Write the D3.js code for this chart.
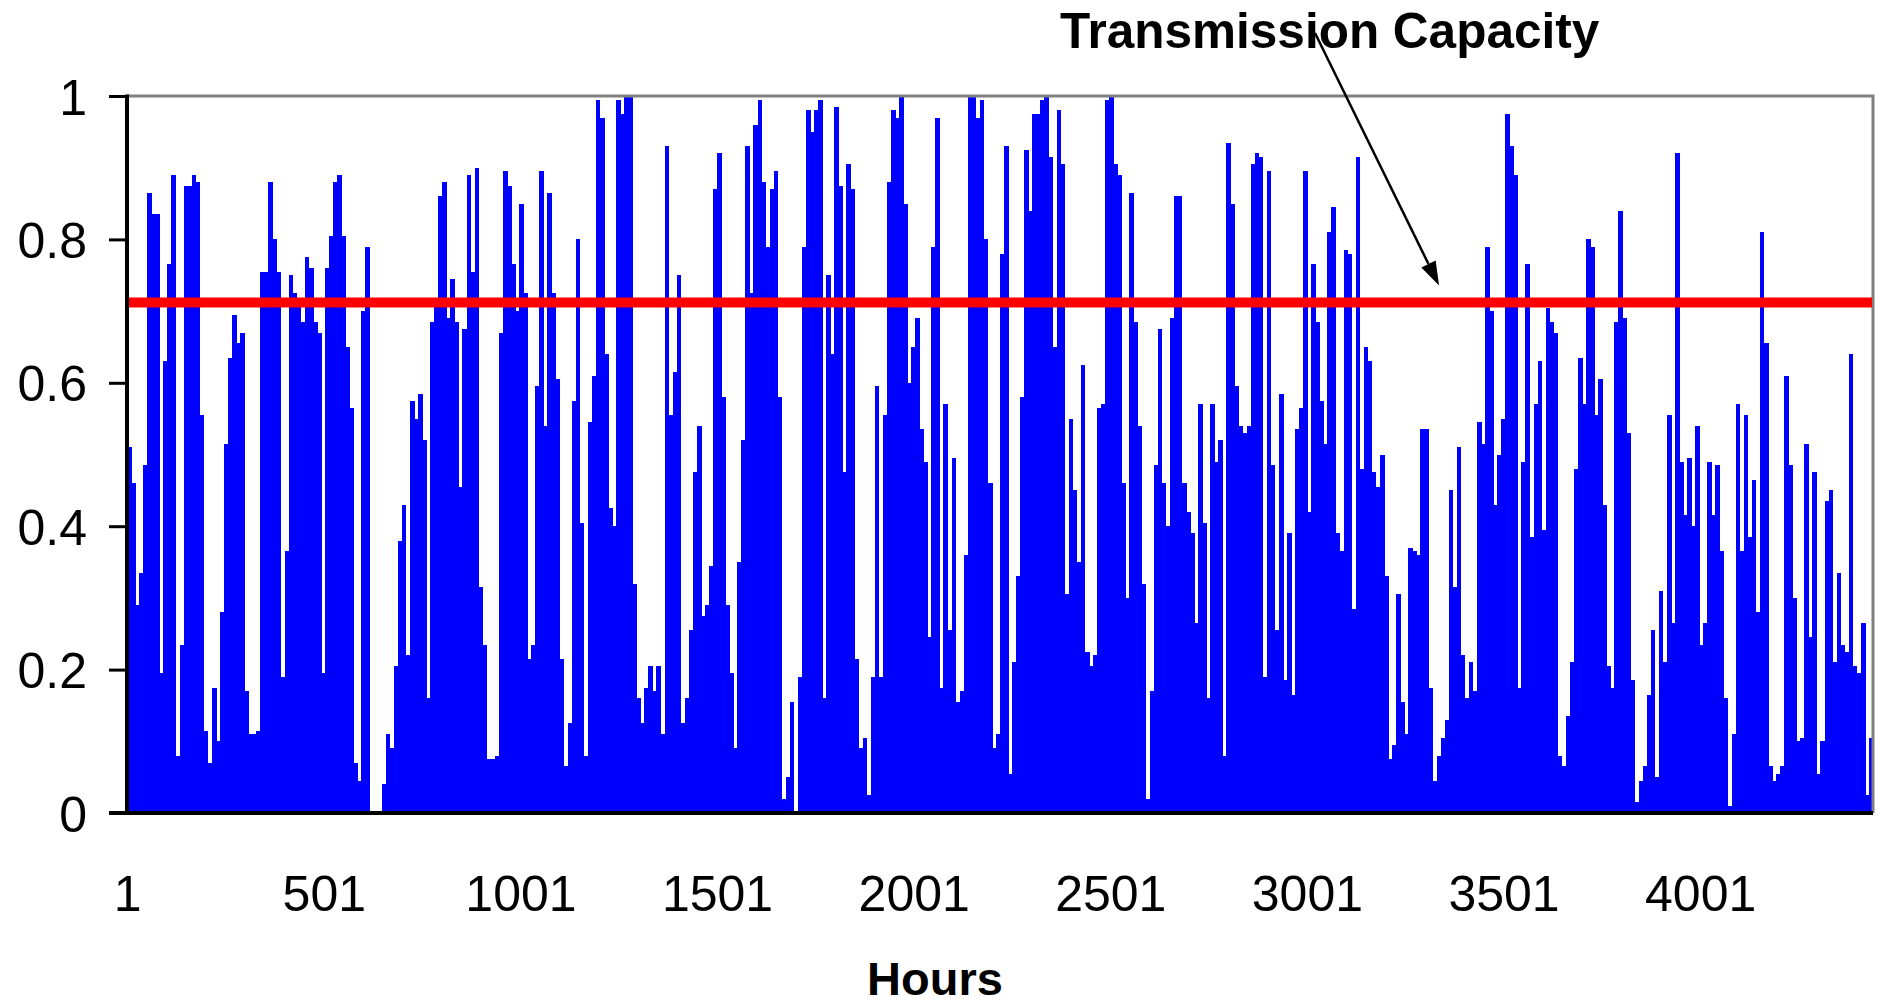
<!DOCTYPE html>
<html>
<head>
<meta charset="utf-8">
<script src="https://cdn.jsdelivr.net/npm/d3@7"></script>
<style>
  html, body { margin: 0; padding: 0; background: #fff; }
  svg { display: block; font-family: "Liberation Sans", Arial, sans-serif; }
</style>
</head>
<body>
<svg id="chart" width="1880" height="1005"></svg>
<script>
// Hourly line flow (per-unit of rating), one value per ~10-hour block, hours 1..4440
const flow = [
  0.51, 0.46, 0.29, 0.335, 0.485, 0.865, 0.835, 0.835, 0.195, 0.63, 0.765, 0.89, 0.08, 0.235, 0.875, 0.875, 0.89, 0.88, 0.555, 0.115,
  0.07, 0.175, 0.1, 0.28, 0.515, 0.635, 0.695, 0.655, 0.67, 0.17, 0.11, 0.11, 0.115, 0.755, 0.755, 0.88, 0.8, 0.755, 0.19,
  0.365, 0.75, 0.725, 0.71, 0.685, 0.775, 0.76, 0.685, 0.67, 0.195, 0.76, 0.805, 0.88, 0.89, 0.805, 0.65, 0.565, 0.07, 0.045, 0.7,
  0.79, 0, 0, 0, 0.04, 0.11, 0.09, 0.205, 0.38, 0.43, 0.22, 0.575, 0.55, 0.585, 0.52, 0.16, 0.685, 0.71, 0.86, 0.88,
  0.69, 0.745, 0.685, 0.455, 0.675, 0.89, 0.755, 0.9, 0.315, 0.235, 0.075, 0.075, 0.08, 0.67, 0.895, 0.875, 0.765, 0.7, 0.85, 0.725,
  0.215, 0.235, 0.595, 0.895, 0.54, 0.865, 0.725, 0.605, 0.215, 0.065, 0.125, 0.575, 0.8, 0.405, 0.08, 0.545, 0.61, 0.995, 0.97,
  0.64, 0.425, 0.4, 0.995, 0.975, 1.0, 1.0, 0.32, 0.16, 0.125, 0.175, 0.205, 0.17, 0.205, 0.11, 0.93, 0.555, 0.615, 0.75, 0.125,
  0.16, 0.255, 0.475, 0.54, 0.275, 0.29, 0.345, 0.87, 0.92, 0.58, 0.29, 0.195, 0.09, 0.35, 0.52, 0.93, 0.725, 0.96, 0.995,
  0.88, 0.79, 0.87, 0.895, 0.58, 0.02, 0.05, 0.155, 0, 0.19, 0.79, 0.98, 0.95, 0.98, 0.995, 0.16, 0.75, 0.64, 0.985, 0.875,
  0.475, 0.905, 0.87, 0.215, 0.09, 0.105, 0.025, 0.19, 0.595, 0.19, 0.555, 0.88, 0.98, 0.97, 1.0, 0.85, 0.6, 0.65, 0.69, 0.535,
  0.49, 0.245, 0.79, 0.97, 0.175, 0.57, 0.255, 0.495, 0.155, 0.17, 0.36, 1.0, 1.0, 0.97, 0.995, 0.8, 0.46, 0.09, 0.11, 0.78,
  0.93, 0.055, 0.21, 0.33, 0.58, 0.925, 0.84, 0.975, 0.975, 0.995, 1.0, 0.915, 0.65, 0.98, 0.905, 0.305, 0.55, 0.45, 0.35, 0.625,
  0.225, 0.205, 0.22, 0.565, 0.57, 0.995, 1.0, 0.905, 0.89, 0.46, 0.3, 0.865, 0.685, 0.54, 0.32, 0.02, 0.17, 0.485, 0.675, 0.46,
  0.4, 0.69, 0.86, 0.86, 0.46, 0.42, 0.39, 0.265, 0.57, 0.405, 0.16, 0.57, 0.49, 0.52, 0.08, 0.935, 0.85, 0.595, 0.54,
  0.53, 0.54, 0.905, 0.92, 0.915, 0.19, 0.895, 0.485, 0.255, 0.585, 0.185, 0.39, 0.165, 0.535, 0.565, 0.895, 0.42, 0.765, 0.685, 0.575,
  0.515, 0.81, 0.845, 0.39, 0.365, 0.785, 0.78, 0.285, 0.915, 0.48, 0.65, 0.63, 0.475, 0.455, 0.5, 0.33, 0.075, 0.095, 0.305, 0.155,
  0.11, 0.37, 0.365, 0.36, 0.535, 0.535, 0.175, 0.045, 0.08, 0.105, 0.13, 0.45, 0.315, 0.51, 0.22, 0.16, 0.21, 0.17, 0.545, 0.515,
  0.79, 0.7, 0.43, 0.5, 0.55, 0.975, 0.93, 0.89, 0.175, 0.49, 0.765, 0.385, 0.57, 0.63, 0.395, 0.705, 0.685, 0.67, 0.08,
  0.065, 0.135, 0.21, 0.48, 0.635, 0.57, 0.8, 0.79, 0.555, 0.605, 0.43, 0.205, 0.175, 0.685, 0.84, 0.69, 0.53, 0.185, 0.015, 0.045,
  0.065, 0.165, 0.255, 0.05, 0.31, 0.21, 0.555, 0.265, 0.92, 0.49, 0.415, 0.495, 0.4, 0.54, 0.235, 0.265, 0.49, 0.415, 0.485, 0.365,
  0.16, 0.01, 0.11, 0.57, 0.365, 0.555, 0.385, 0.465, 0.28, 0.81, 0.655, 0.065, 0.045, 0.055, 0.065, 0.61, 0.485, 0.3, 0.1, 0.105,
  0.515, 0.245, 0.475, 0.055, 0.1, 0.435, 0.45, 0.21, 0.335, 0.235, 0.225, 0.64, 0.205, 0.195, 0.265, 0.025, 0.105
];
const totalHours = 4440;
const capacity = 0.712;
const yTicks = [0, 0.2, 0.4, 0.6, 0.8, 1];
const xTickHours = [1, 501, 1001, 1501, 2001, 2501, 3001, 3501, 4001];
const xTitle = "Hours";
const capacityLabel = "Transmission Capacity";

const svg = d3.select("#chart");
const plot = { left: 127, right: 1873, top: 96, bottom: 813 };

// hour h is centred on x(h); the axis spans the outer edges of hours 1..N
const x = d3.scaleLinear().domain([0.5, totalHours + 0.5]).range([plot.left, plot.right]);
const y = d3.scaleLinear().domain([0, 1]).range([plot.bottom, plot.top]);
const blockHours = totalHours / flow.length;

// flow bars
svg.append("g")
  .attr("shape-rendering", "crispEdges")
  .selectAll("rect")
  .data(flow)
  .join("rect")
  .attr("x", (d, i) => x(0.5 + i * blockHours))
  .attr("width", (d, i) => x(0.5 + (i + 1) * blockHours) - x(0.5 + i * blockHours) + 0.6)
  .attr("y", d => y(d))
  .attr("height", d => y(0) - y(d))
  .attr("fill", "#0000FF");

// plot frame: grey top and right edges
svg.append("path")
  .attr("d", `M${plot.left},${plot.top}H${plot.right}V${plot.bottom}`)
  .attr("fill", "none")
  .attr("stroke", "#808080")
  .attr("stroke-width", 3);

// transmission capacity limit
svg.append("line")
  .attr("x1", plot.left).attr("x2", plot.right - 1)
  .attr("y1", y(capacity)).attr("y2", y(capacity))
  .attr("stroke", "#FF0000")
  .attr("stroke-width", 10);

// y axis
const yAxis = d3.axisLeft(y).tickValues(yTicks).tickSize(18).tickPadding(22)
  .tickFormat(d => d3.format("")(+d.toFixed(1)));
const gy = svg.append("g").attr("transform", `translate(${plot.left},0)`).call(yAxis);
gy.select(".domain").attr("stroke", "#000").attr("stroke-width", 4)
  .attr("d", `M0,${plot.top - 1.5}V${plot.bottom + 1.5}`);
gy.selectAll(".tick line").attr("stroke", "#000").attr("stroke-width", 3);
gy.selectAll(".tick text")
  .attr("font-size", 50).attr("fill", "#000")
  .attr("font-family", "Liberation Sans, Arial, sans-serif")
  .attr("dy", "0.36em");

// x axis
const xAxis = d3.axisBottom(x).tickValues(xTickHours).tickSize(0).tickPadding(62)
  .tickFormat(d3.format("d"));
const gx = svg.append("g").attr("transform", `translate(0,${plot.bottom})`).call(xAxis);
gx.select(".domain").attr("stroke", "#000").attr("stroke-width", 4)
  .attr("d", `M${plot.left - 18},0H${plot.right}`);
gx.selectAll(".tick text")
  .attr("font-size", 50).attr("fill", "#000")
  .attr("font-family", "Liberation Sans, Arial, sans-serif")
  .attr("dy", "0.71em");

// axis title
svg.append("text")
  .attr("x", 935).attr("y", 995)
  .attr("text-anchor", "middle")
  .attr("font-size", 47).attr("font-weight", "bold")
  .text(xTitle);

// annotation arrow pointing at the capacity line
const a0 = [1315, 33], a1 = [x(3337), y(capacity) - 17];
const ang = Math.atan2(a1[1] - a0[1], a1[0] - a0[0]);
const headLen = 24, headHalf = 8;
const base = [a1[0] - headLen * Math.cos(ang), a1[1] - headLen * Math.sin(ang)];
svg.append("line")
  .attr("x1", a0[0]).attr("y1", a0[1])
  .attr("x2", base[0]).attr("y2", base[1])
  .attr("stroke", "#000").attr("stroke-width", 2.5);
svg.append("path")
  .attr("d", d3.line()([
    a1,
    [base[0] + headHalf * Math.sin(ang), base[1] - headHalf * Math.cos(ang)],
    [base[0] - headHalf * Math.sin(ang), base[1] + headHalf * Math.cos(ang)]
  ]) + "Z")
  .attr("fill", "#000");

svg.append("text")
  .attr("x", 1060).attr("y", 48)
  .attr("font-size", 49.5).attr("font-weight", "bold")
  .text(capacityLabel);
</script>
</body>
</html>
